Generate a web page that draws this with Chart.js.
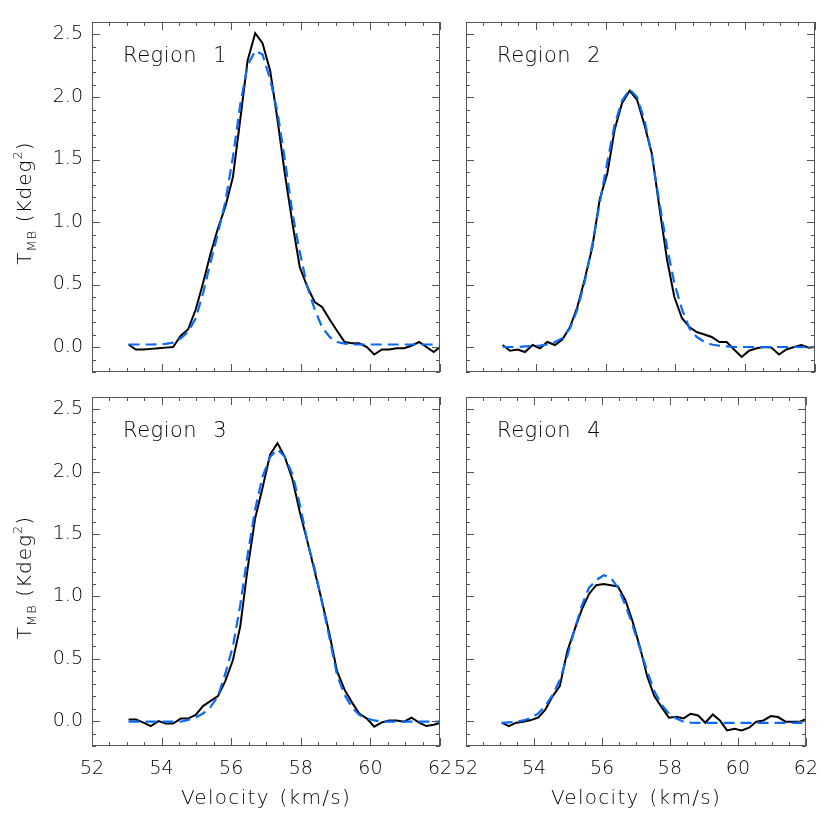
<!DOCTYPE html>
<html>
<head>
<meta charset="utf-8">
<script src="https://cdn.jsdelivr.net/npm/chart.js@4.4.1/dist/chart.umd.min.js"></script>
<style>
    html, body { margin: 0; padding: 0; background: #fff; }
    #wrap { position: relative; width: 830px; height: 830px; }
    #wrap canvas { position: absolute; left: 0; top: 0; }
</style>
</head>
<body>
<div id="wrap">
    <canvas id="p1" width="830" height="830"></canvas>
    <canvas id="p2" width="830" height="830"></canvas>
    <canvas id="p3" width="830" height="830"></canvas>
    <canvas id="p4" width="830" height="830"></canvas>
</div>
<script>
"use strict";

// Channel velocities (km/s), shared by the four spectra:
var velocity = [53.05, 53.26, 53.48, 53.69, 53.91, 54.12, 54.33, 54.55, 54.76, 54.98,
    55.19, 55.40, 55.62, 55.83, 56.05, 56.26, 56.47, 56.69, 56.90, 57.12,
    57.33, 57.54, 57.76, 57.97, 58.19, 58.40, 58.61, 58.83, 59.04, 59.26,
    59.47, 59.68, 59.90, 60.11, 60.33, 60.54, 60.75, 60.97, 61.18, 61.40,
    61.61, 61.82, 62.04];

// Observed spectra (black) and fits (blue dashed), T_MB:
var region1Obs = [0.02, -0.02, -0.02, -0.015, -0.01, -0.005, 0.00, 0.09, 0.14, 0.30,
    0.51, 0.74, 0.95, 1.12, 1.36, 1.82, 2.29, 2.51, 2.43, 2.21,
    1.82, 1.39, 0.99, 0.64, 0.48, 0.36, 0.32, 0.22, 0.13, 0.04,
    0.03, 0.03, 0.00, -0.06, -0.02, -0.02, -0.01, -0.01, 0.01, 0.04,
    0.00, -0.04, 0.01];
var region1Fit = [0.02, 0.02, 0.02, 0.02, 0.022, 0.025, 0.035, 0.07, 0.12, 0.23,
    0.43, 0.67, 0.91, 1.16, 1.52, 1.94, 2.25, 2.37, 2.34, 2.14,
    1.88, 1.50, 1.07, 0.76, 0.48, 0.30, 0.16, 0.08, 0.04, 0.027,
    0.022, 0.02, 0.02, 0.02, 0.02, 0.02, 0.02, 0.02, 0.02, 0.02,
    0.02, 0.02, 0.02];

var region2Obs = [0.016, -0.03, -0.02, -0.04, 0.016, -0.01, 0.04, 0.016, 0.06, 0.16,
    0.32, 0.54, 0.80, 1.18, 1.39, 1.74, 1.95, 2.05, 1.98, 1.77,
    1.54, 1.12, 0.70, 0.40, 0.23, 0.16, 0.12, 0.10, 0.08, 0.04,
    0.04, -0.02, -0.08, -0.03, -0.01, 0.00, -0.005, -0.06, -0.02, 0.00,
    0.016, -0.005, 0.00];
var region2Fit = [0.0, 0.0, 0.0, 0.005, 0.008, 0.012, 0.02, 0.04, 0.07, 0.15,
    0.30, 0.52, 0.82, 1.15, 1.48, 1.78, 1.97, 2.06, 2.00, 1.81,
    1.52, 1.16, 0.80, 0.51, 0.30, 0.15, 0.08, 0.04, 0.02, 0.01,
    0.005, 0.0, 0.0, 0.0, 0.0, 0.0, 0.0, 0.0, 0.0, 0.0,
    0.0, 0.0, 0.0];

var region3Obs = [0.013, 0.013, -0.013, -0.04, 0.0, -0.02, -0.02, 0.02, 0.02, 0.05,
    0.12, 0.16, 0.20, 0.32, 0.49, 0.76, 1.22, 1.63, 1.87, 2.14,
    2.23, 2.12, 1.94, 1.68, 1.44, 1.20, 0.96, 0.69, 0.40, 0.25,
    0.15, 0.06, 0.02, -0.045, -0.01, 0.005, 0.005, -0.005, 0.027, -0.013,
    -0.04, -0.03, -0.013];
var region3Fit = [-0.005, -0.005, -0.005, -0.005, -0.005, -0.005, -0.005, -0.005, 0.01, 0.03,
    0.06, 0.11, 0.20, 0.38, 0.60, 0.93, 1.33, 1.70, 1.96, 2.12,
    2.18, 2.12, 1.98, 1.74, 1.44, 1.22, 0.95, 0.66, 0.37, 0.21,
    0.11, 0.05, 0.02, 0.005, -0.005, -0.005, -0.005, -0.005, -0.005, -0.005,
    -0.005, -0.005, -0.005];

var region4Obs = [-0.013, -0.04, -0.013, -0.005, 0.008, 0.027, 0.09, 0.20, 0.28, 0.56,
    0.73, 0.89, 1.02, 1.09, 1.10, 1.09, 1.08, 0.97, 0.80, 0.59,
    0.36, 0.20, 0.11, 0.027, 0.035, 0.021, 0.059, 0.045, -0.013, 0.053,
    0.005, -0.075, -0.061, -0.075, -0.053, -0.005, 0.005, 0.04, 0.032, -0.005,
    -0.005, -0.005, 0.021];
var region4Fit = [-0.015, -0.01, -0.005, 0.005, 0.025, 0.06, 0.12, 0.21, 0.33, 0.52,
    0.73, 0.92, 1.07, 1.13, 1.17, 1.15, 1.07, 0.93, 0.77, 0.58,
    0.40, 0.24, 0.13, 0.06, 0.02, -0.005, -0.012, -0.015, -0.015, -0.015,
    -0.015, -0.015, -0.015, -0.015, -0.015, -0.015, -0.015, -0.015, -0.015, -0.015,
    -0.015, -0.015, -0.015];

// Axis ticks:
var xTickLabels = [52, 54, 56, 58, 60, 62];
var yTickLabels = [0.0, 0.5, 1.0, 1.5, 2.0, 2.5];

var FONT = "'DejaVu Sans', sans-serif";
var WEIGHT = '200';
var W = 830, H = 830;

var toPoints = function (ys) {
    return velocity.map(function (v, i) { return { x: v, y: ys[i] }; });
};

var setSpacing = function (ctx, letter, word) {
    try {
        ctx.letterSpacing = letter;
        ctx.wordSpacing = word;
    } catch (e) {}
};

// IDL-looking box: frame, inward ticks on all sides, region label, axis titles
var framePlugin = {
    id: 'idlFrame',
    afterDraw: function (chart, args, opts) {
        var ctx = chart.ctx;
        var a = chart.chartArea;
        var xs = chart.scales.x;
        var ys = chart.scales.y;

        ctx.save();
        ctx.strokeStyle = '#555';
        ctx.lineWidth = 1;
        ctx.strokeRect(a.left + 0.5, a.top + 0.5, a.right - a.left - 1, a.bottom - a.top - 1);

        ctx.beginPath();
        // x ticks: major every 2, minor every 0.5
        for (var k = 0; k <= 20; k++) {
            var v = 52 + k * 0.5;
            var px = Math.round(xs.getPixelForValue(v)) + 0.5;
            var len = (k % 4 === 0) ? 8 : 4;
            ctx.moveTo(px, a.bottom); ctx.lineTo(px, a.bottom - len);
            ctx.moveTo(px, a.top); ctx.lineTo(px, a.top + len);
        }
        // y ticks: major every 0.5, minor every 0.1
        for (var j = -2; j <= 26; j++) {
            var py = Math.round(ys.getPixelForValue(j / 10)) + 0.5;
            var len2 = (j % 5 === 0) ? 8 : 4;
            ctx.moveTo(a.left, py); ctx.lineTo(a.left + len2, py);
            ctx.moveTo(a.right, py); ctx.lineTo(a.right - len2, py);
        }
        ctx.stroke();

        ctx.fillStyle = '#000';
        ctx.textBaseline = 'alphabetic';
        ctx.textAlign = 'left';
        ctx.font = WEIGHT + " 21px " + FONT;
        setSpacing(ctx, '0.5px', '9px');
        ctx.fillText(opts.label, a.left + 31, a.top + 40);

        if (opts.xTitle) {
            ctx.font = WEIGHT + " 20px " + FONT;
            ctx.textAlign = 'center';
            setSpacing(ctx, '1.3px', '2px');
            ctx.fillText('Velocity (km/s)', (a.left + a.right) / 2, a.bottom + 58);
        }

        if (opts.yTitle) {
            // T_MB (Kdeg^2), rotated, with sub/superscript
            setSpacing(ctx, '1px', '5px');
            var parts = [
                { t: 'T', f: 20, dy: 0 },
                { t: 'MB', f: 13, dy: 5 },
                { t: ' (Kdeg', f: 20, dy: 0 },
                { t: '2', f: 13, dy: -9 },
                { t: ')', f: 20, dy: 0 }
            ];
            var total = 0;
            parts.forEach(function (p) {
                ctx.font = WEIGHT + " " + p.f + "px " + FONT;
                p.w = ctx.measureText(p.t).width;
                total += p.w;
            });
            ctx.translate(31, (a.top + a.bottom) / 2 + 6);
            ctx.rotate(-Math.PI / 2);
            ctx.textAlign = 'left';
            var cx = -total / 2;
            parts.forEach(function (p) {
                ctx.font = WEIGHT + " " + p.f + "px " + FONT;
                ctx.fillText(p.t, cx, p.dy);
                cx += p.w;
            });
        }
        ctx.restore();
    }
};

var makePanel = function (id, area, label, obs, fit, showX, showY) {
    return new Chart(document.getElementById(id), {
        type: 'line',
        data: {
            datasets: [{
                data: toPoints(fit),
                borderColor: 'rgb(10, 105, 245)',
                borderWidth: 2.2,
                borderDash: [11, 6],
                pointRadius: 0,
                tension: 0,
                fill: false
            }, {
                data: toPoints(obs),
                borderColor: '#000',
                borderWidth: 2,
                pointRadius: 0,
                tension: 0,
                fill: false
            }]
        },
        options: {
            responsive: false,
            animation: false,
            devicePixelRatio: 1,
            events: [],
            layout: {
                padding: { left: 0, top: area.top, right: W - area.right, bottom: 0 }
            },
            plugins: {
                legend: { display: false },
                tooltip: { enabled: false },
                idlFrame: { label: label, xTitle: showX, yTitle: showY }
            },
            scales: {
                x: {
                    type: 'linear',
                    min: 52,
                    max: 62,
                    grid: { display: false, drawTicks: false },
                    border: { display: false },
                    afterBuildTicks: function (s) {
                        s.ticks = xTickLabels.map(function (v) { return { value: v }; });
                    },
                    afterFit: function (s) { s.height = H - area.bottom; },
                    ticks: {
                        display: showX,
                        maxRotation: 0,
                        autoSkip: false,
                        padding: 12,
                        color: '#000',
                        font: { family: FONT, size: 19, weight: WEIGHT },
                        callback: function (v) { return String(v); }
                    }
                },
                y: {
                    type: 'linear',
                    min: -0.2,
                    max: 2.6,
                    grid: { display: false, drawTicks: false },
                    border: { display: false },
                    afterBuildTicks: function (s) {
                        s.ticks = yTickLabels.map(function (v) { return { value: v }; });
                    },
                    afterFit: function (s) { s.width = area.left; },
                    ticks: {
                        display: showY,
                        autoSkip: false,
                        padding: 9,
                        color: '#000',
                        font: { family: FONT, size: 19, weight: WEIGHT },
                        callback: function (v) { return Number(v).toFixed(1); }
                    }
                }
            }
        },
        plugins: [framePlugin]
    });
};

makePanel('p1', { left: 92, top: 22, right: 440, bottom: 372 }, 'Region 1', region1Obs, region1Fit, false, true);
makePanel('p2', { left: 466, top: 22, right: 815, bottom: 372 }, 'Region 2', region2Obs, region2Fit, false, false);
makePanel('p3', { left: 92, top: 397, right: 440, bottom: 746 }, 'Region 3', region3Obs, region3Fit, true, true);
makePanel('p4', { left: 466, top: 397, right: 815, bottom: 746 }, 'Region 4', region4Obs, region4Fit, true, false);
</script>
</body>
</html>
